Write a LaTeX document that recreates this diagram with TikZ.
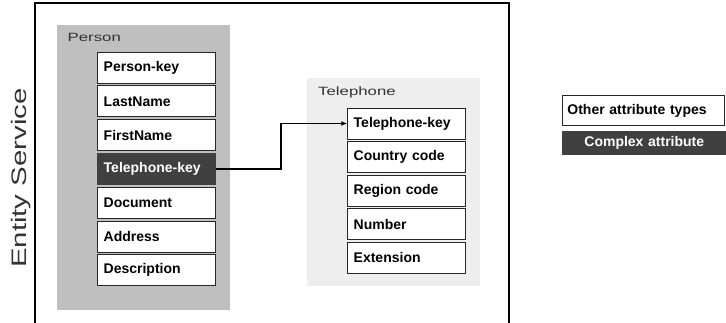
\documentclass[tikz,border=0pt]{standalone}
\usepackage{fontspec}
\setmainfont{Liberation Sans}
\newfontfamily\widefont[FakeStretch=1.4]{Liberation Sans}
\usetikzlibrary{arrows.meta}
\definecolor{personbg}{HTML}{BFBFBF}
\definecolor{phonebg}{HTML}{EEEEEE}
\definecolor{cplxfill}{HTML}{404040}
\definecolor{labelgray}{HTML}{333333}
\begin{document}
\begin{tikzpicture}[x=1pt,y=-1pt]
	\tikzstyle{every node} = [font=\fontsize{14}{16}\selectfont\bfseries];
	\tikzstyle{attr} = [draw=black!85, line width=0.9pt, fill=white, minimum height=31pt, text width=106pt, inner xsep=6pt, align=left];
	\tikzstyle{cplx} = [attr, draw=cplxfill, fill=cplxfill, text=white];
	\tikzstyle{tablelabel} = [anchor=base west, inner sep=0pt, text=labelgray, font=\fontsize{12}{14}\selectfont\widefont];
	\useasboundingbox (0,0) rectangle (726,323);
	% service frame, open at the bottom
	\draw[line width=1.4pt] (35,323) -- (35,3) -- (509,3) -- (509,323);
	\node[rotate=90, anchor=base, inner sep=0pt, text=labelgray, font=\fontsize{21}{23}\selectfont\widefont] (service) at (26,178) {Entity Service};
	% Person
	\fill[personbg] (57,25) rectangle (230,310);
	\node[tablelabel] (person) at (67.5,42) {Person};
	\foreach \name/\sty [count=\i] in {Person-key/attr, LastName/attr, FirstName/attr, Telephone-key/cplx, Document/attr, Address/attr, Description/attr} {
		\node[\sty] (p\i) at (156.7,33.8*\i+33.7) {\name};
		}
	% Telephone
	\fill[phonebg] (306.7,78) rectangle (480,285.7);
	\node[tablelabel] (phone) at (318,95.5) {Telephone};
	\foreach \name [count=\i] in {Telephone-key, Country code, Region code, Number, Extension} {
		\node[attr] (t\i) at (406.7,33.6*\i+89.9) {\name};
		}
	\draw[line width=1.5pt, -{Latex[length=6pt,width=5pt]}] (p4.east) -- ++(65,0) |- (t1.west);
	% legend
	\node[attr, text width=152pt, inner xsep=4.6pt, minimum height=30.7pt] (other) at (643.4,110.4) {Other attribute types};
	\node[cplx, text width=155pt, inner xsep=4pt, minimum height=23.3pt, align=center] (complex) at (644.3,143.3) {Complex attribute};
\end{tikzpicture}
\end{document}
